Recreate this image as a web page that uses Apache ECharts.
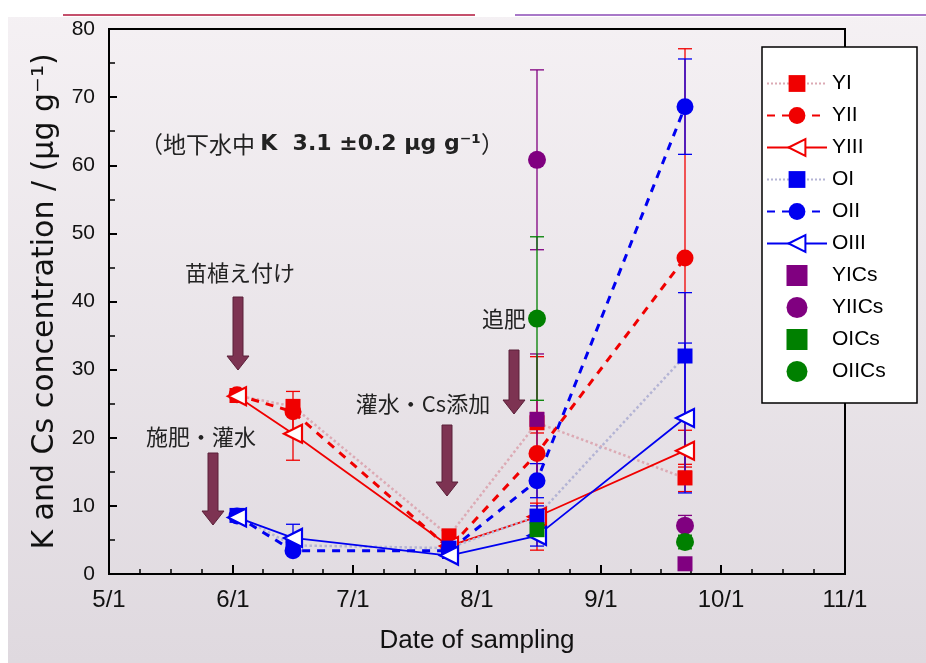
<!DOCTYPE html>
<html>
<head>
<meta charset="utf-8">
<script src="https://cdn.jsdelivr.net/npm/echarts@6/dist/echarts.min.js"></script>
<style>
html, body { margin: 0; padding: 0; background: #fff; }
#main { width: 926px; height: 663px; }
</style>
</head>
<body>
<div id="main"></div>
<script>
var chart = echarts.init(document.getElementById('main'));

// sampling dates
var dates = ['2011-06-02', '2011-06-16', '2011-07-25', '2011-08-16', '2011-09-22'];
var csDates = ['2011-08-16', '2011-09-22'];

// K concentration (µg/g)
var YI   = [26.2, 24.6, 5.6, 22.2, 14.1];
var YII  = [26.3, 23.8, 3.8, 17.7, 46.4];
var YIII = [26.1, 20.6, 4.1, 8.4, 18.1];
var OI   = [8.6, 4.2, 3.8, 8.5, 32.0];
var OII  = [8.5, 3.4, 3.4, 13.7, 68.6];
var OIII = [8.3, 5.3, 2.7, 5.6, 22.9];
// Cs concentration
var YICs  = [22.7, 1.5];
var YIICs = [60.8, 7.1];
var OICs  = [6.5, null];
var OIICs = [37.5, 4.7];

// error bars (+/-)
var errYI   = [0.5, 1.0, 0.5, 1.5, 2.0];
var errYII  = [0.5, 3.0, 0.5, 14.2, 30.7];
var errYIII = [0.5, 3.9, 0.5, 2.0, 3.0];
var errOI   = [0.3, 0.5, 0.4, 1.5, 9.3];
var errOII  = [0.3, 0.5, 0.4, 2.5, 7.0];
var errOIII = [0.3, 2.0, 0.4, 1.5, 11.0];
var errYICs  = [9.6, 0.5];
var errYIICs = [13.2, 1.5];
var errOICs  = [1.0, null];
var errOIICs = [12.0, 1.0];

var names = ['YI', 'YII', 'YIII', 'OI', 'OII', 'OIII', 'YICs', 'YIICs', 'OICs', 'OIICs'];

var RED = '#f00000', BLUE = '#0000f0', PURPLE = '#800080', GREEN = '#008000';
var triLeft = 'path://M0,5L10,0L10,10Z';
var square = 'path://M0,0L10,0L10,10L0,10Z';

function pair(xs, ys) {
  return xs.map(function (d, i) { return [d, ys[i]]; }).filter(function (r) { return r[1] != null; });
}

function errBars(xs, ys, es, color) {
  return {
    type: 'custom',
    z: 2,
    silent: true,
    data: xs.map(function (d, i) { return [d, ys[i], es[i]]; }).filter(function (r) { return r[1] != null; }),
    encode: { x: 0, y: 1 },
    renderItem: function (params, api) {
      var x = api.value(0), y = api.value(1), e = api.value(2);
      var top = api.coord([x, y + e]);
      var bot = api.coord([x, y - e]);
      var w = 7;
      var st = { stroke: color, lineWidth: 1.3 };
      return {
        type: 'group',
        children: [
          { type: 'line', shape: { x1: top[0], y1: top[1], x2: bot[0], y2: bot[1] }, style: st },
          { type: 'line', shape: { x1: top[0] - w, y1: top[1], x2: top[0] + w, y2: top[1] }, style: st },
          { type: 'line', shape: { x1: bot[0] - w, y1: bot[1], x2: bot[0] + w, y2: bot[1] }, style: st }
        ]
      };
    }
  };
}

function arrow(x, yTop, yTip) {
  return {
    type: 'polygon',
    z: 6,
    shape: {
      points: [[x - 5, yTop], [x + 5, yTop], [x + 5, yTip - 14], [x + 11, yTip - 14],
               [x, yTip], [x - 11, yTip - 14], [x - 5, yTip - 14]]
    },
    style: { fill: '#7d3352', stroke: '#5b2039', lineWidth: 1 }
  };
}

function label(text, x, y, size) {
  return {
    type: 'text', z: 6, x: x, y: y,
    style: { text: text, align: 'center', verticalAlign: 'middle',
             fontSize: size, fontFamily: '"Noto Sans CJK JP"', fill: '#222' }
  };
}

var legendData = names.map(function (n) {
  if (n === 'YICs' || n === 'OICs') return { name: n, icon: square };
  return { name: n };
});

var option = {
  animation: false,
  backgroundColor: new echarts.graphic.LinearGradient(0, 0, 0, 1, [
    { offset: 0, color: '#f5f1f4' }, { offset: 1, color: '#dfd9df' }
  ]),
  grid: { left: 109, right: 81, top: 29, bottom: 89, show: true, borderColor: '#000', borderWidth: 2 },
  xAxis: {
    type: 'time',
    min: +new Date(2011, 4, 1),
    max: +new Date(2011, 10, 1),
    splitNumber: 6,
    axisLine: { lineStyle: { color: '#000', width: 2 } },
    axisTick: { inside: true, length: 9, lineStyle: { color: '#000', width: 2 } },
    minorTick: { show: true, splitNumber: 4, length: 5, lineStyle: { color: '#000', width: 1.5 } },
    splitLine: { show: false },
    axisLabel: {
      color: '#111', fontSize: 24, fontFamily: 'Liberation Sans', margin: 14,
      showMinLabel: true, showMaxLabel: true, hideOverlap: false,
      formatter: function (v) { var d = new Date(v); return (d.getMonth() + 1) + '/' + d.getDate(); }
    },
    name: 'Date of sampling',
    nameLocation: 'middle',
    nameGap: 54,
    nameTextStyle: { color: '#111', fontSize: 26, fontFamily: 'Liberation Sans' }
  },
  yAxis: {
    type: 'value',
    min: 0, max: 80, interval: 10,
    axisLine: { show: true, lineStyle: { color: '#000', width: 2 } },
    axisTick: { show: true, inside: true, length: 8, lineStyle: { color: '#000', width: 2 } },
    minorTick: { show: true, splitNumber: 2, length: 6, lineStyle: { color: '#000', width: 1.5 } },
    splitLine: { show: false },
    axisLabel: { color: '#111', fontSize: 21, fontFamily: 'Liberation Sans', margin: 14 },
    name: 'K and Cs concentration / (μg g⁻¹)',
    nameLocation: 'middle',
    nameRotate: 90,
    nameGap: 49,
    nameTextStyle: { color: '#111', fontSize: 30, fontFamily: 'DejaVu Sans' }
  },
  legend: {
    data: legendData,
    orient: 'vertical',
    left: 766, top: 73,
    padding: 0,
    itemWidth: 60, itemHeight: 21, itemGap: 11,
    textStyle: { color: '#000', fontSize: 21, fontFamily: 'Liberation Sans' },
    z: 20
  },
  graphic: [
    { type: 'rect', z: -1, shape: { x: 0, y: 0, width: 926, height: 17 }, style: { fill: '#fff' } },
    { type: 'rect', z: -1, shape: { x: 0, y: 0, width: 8, height: 663 }, style: { fill: '#fff' } },
    { type: 'line', shape: { x1: 63, y1: 15, x2: 475, y2: 15 }, style: { stroke: '#c4506c', lineWidth: 2 } },
    { type: 'line', shape: { x1: 515, y1: 15, x2: 926, y2: 15 }, style: { stroke: '#a878c8', lineWidth: 2 } },
    { type: 'rect', z: 10, shape: { x: 762, y: 47, width: 155, height: 356 },
      style: { fill: '#fff', stroke: '#000', lineWidth: 1.5 } },
    label('苗植え付け', 240, 273, 22),
    label('施肥・灌水', 201, 437, 22),
    label('灌水・Cs添加', 423, 404, 22),
    label('追肥', 504, 319, 22),
    arrow(238, 297, 370),
    arrow(213, 453, 525),
    arrow(447, 425, 496),
    arrow(514, 350, 414),
    {
      type: 'text', z: 6, x: 322, y: 144,
      style: {
        text: '（地下水中 {b|K  3.1 ±0.2 μg g⁻¹}）',
        align: 'center', verticalAlign: 'middle',
        fontSize: 23, fontFamily: '"Noto Sans CJK JP"', fill: '#222',
        rich: { b: { fontSize: 22, fontWeight: 'bold', fontFamily: 'DejaVu Sans', fill: '#222' } }
      }
    }
  ],
  series: [
    errBars(dates, YI, errYI, RED),
    errBars(dates, YII, errYII, RED),
    errBars(dates, YIII, errYIII, RED),
    errBars(dates, OI, errOI, BLUE),
    errBars(dates, OII, errOII, BLUE),
    errBars(dates, OIII, errOIII, BLUE),
    errBars(csDates, YICs, errYICs, PURPLE),
    errBars(csDates, YIICs, errYIICs, PURPLE),
    errBars(csDates, OICs, errOICs, GREEN),
    errBars(csDates, OIICs, errOIICs, GREEN),
    {
      name: 'YI', type: 'line', z: 3, data: pair(dates, YI),
      symbol: 'rect', symbolSize: 15,
      itemStyle: { color: RED },
      lineStyle: { color: '#dcaab4', width: 2.5, type: 'dotted' }
    },
    {
      name: 'YII', type: 'line', z: 3, data: pair(dates, YII),
      symbol: 'circle', symbolSize: 17,
      itemStyle: { color: RED },
      lineStyle: { color: RED, width: 3, type: [8, 7] }
    },
    {
      name: 'YIII', type: 'line', z: 3, data: pair(dates, YIII),
      symbol: triLeft, symbolSize: 18,
      itemStyle: { color: '#fff', borderColor: RED, borderWidth: 2.2 },
      lineStyle: { color: RED, width: 1.8 }
    },
    {
      name: 'OI', type: 'line', z: 3, data: pair(dates, OI),
      symbol: 'rect', symbolSize: 15,
      itemStyle: { color: BLUE },
      lineStyle: { color: '#b4b4d4', width: 2.5, type: 'dotted' }
    },
    {
      name: 'OII', type: 'line', z: 3, data: pair(dates, OII),
      symbol: 'circle', symbolSize: 17,
      itemStyle: { color: BLUE },
      lineStyle: { color: BLUE, width: 3, type: [8, 7] }
    },
    {
      name: 'OIII', type: 'line', z: 3, data: pair(dates, OIII),
      symbol: triLeft, symbolSize: 18,
      itemStyle: { color: '#fff', borderColor: BLUE, borderWidth: 2.2 },
      lineStyle: { color: BLUE, width: 1.8 }
    },
    { name: 'YICs', type: 'scatter', z: 3, data: pair(csDates, YICs), symbol: 'rect', symbolSize: 15, itemStyle: { color: PURPLE, opacity: 1 } },
    { name: 'YIICs', type: 'scatter', z: 3, data: pair(csDates, YIICs), symbol: 'circle', symbolSize: 18, itemStyle: { color: PURPLE, opacity: 1 } },
    { name: 'OICs', type: 'scatter', z: 3, data: pair(csDates, OICs), symbol: 'rect', symbolSize: 15, itemStyle: { color: GREEN, opacity: 1 } },
    { name: 'OIICs', type: 'scatter', z: 3, data: pair(csDates, OIICs), symbol: 'circle', symbolSize: 18, itemStyle: { color: GREEN, opacity: 1 } }
  ]
};

chart.setOption(option);
</script>
</body>
</html>
